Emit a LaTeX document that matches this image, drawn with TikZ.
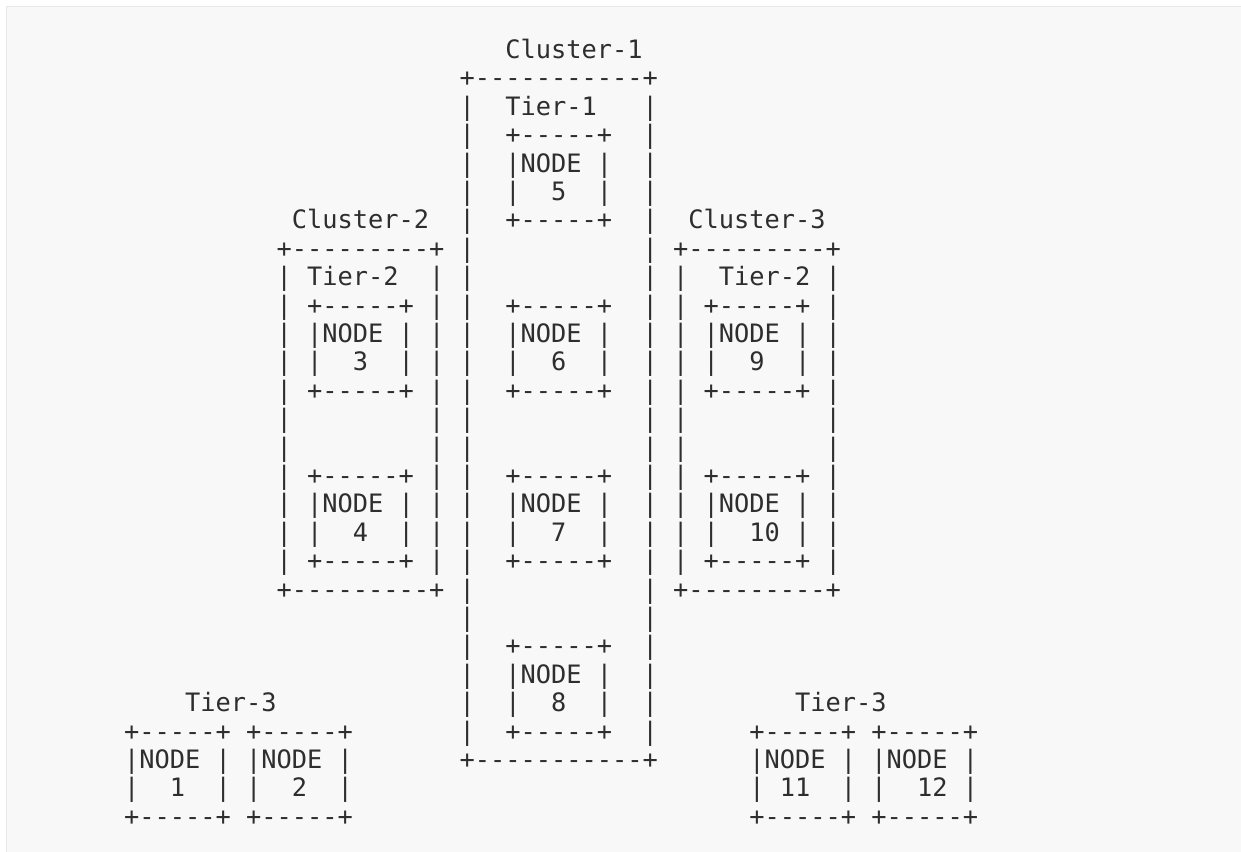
\documentclass[tikz,border=0pt]{standalone}
\usepackage{fontspec}
\setmonofont{DejaVu Sans Mono}

\definecolor{pagebg}{HTML}{F8F8F8}
\definecolor{frameline}{HTML}{E8E8E8}
\definecolor{ink}{HTML}{2E2E2E}

\tikzset{ascii/.style={anchor=base west, inner sep=0pt, outer sep=0pt, text=ink,
    font=\ttfamily\fontsize{19pt}{21.3pt}\selectfont}}

\begin{document}
\begin{tikzpicture}
    \useasboundingbox (0,0) rectangle (930.75pt,-638.25pt);
    \clip (0,0) rectangle (930.75pt,-638.25pt);
    \fill[white] (0,0) rectangle (930.75pt,-638.25pt);
    \filldraw[fill=pagebg, draw=frameline, line width=1.2pt] (5pt,-5pt) rectangle (940pt,-650pt);

    \begin{scope}[shift={(93.06pt,-43.875pt)}, x=11.4375pt, y=-21.3pt]
    \node[ascii] (row0) at (25,0) {Cluster-1};
    \node[ascii] (row1) at (22,1) {+-----------+};
    \node[ascii] (row2) at (22,2) {|~~Tier-1~~~|};
    \node[ascii] (row3) at (22,3) {|~~+-----+~~|};
    \node[ascii] (row4) at (22,4) {|~~|NODE~|~~|};
    \node[ascii] (row5) at (22,5) {|~~|~~5~~|~~|};
    \node[ascii] (row6) at (11,6) {Cluster-2~~|~~+-----+~~|~~Cluster-3};

    \node[ascii] (row7) at (10,7) {+---------+~|~~~~~~~~~~~|~+---------+};
    \node[ascii] (row8) at (10,8) {|~Tier-2~~|~|~~~~~~~~~~~|~|~~Tier-2~|};
    \node[ascii] (row9) at (10,9) {|~+-----+~|~|~~+-----+~~|~|~+-----+~|};
    \node[ascii] (row10) at (10,10) {|~|NODE~|~|~|~~|NODE~|~~|~|~|NODE~|~|};
    \node[ascii] (row11) at (10,11) {|~|~~3~~|~|~|~~|~~6~~|~~|~|~|~~9~~|~|};
    \node[ascii] (row12) at (10,12) {|~+-----+~|~|~~+-----+~~|~|~+-----+~|};
    \node[ascii] (row13) at (10,13) {|~~~~~~~~~|~|~~~~~~~~~~~|~|~~~~~~~~~|};
    \node[ascii] (row14) at (10,14) {|~~~~~~~~~|~|~~~~~~~~~~~|~|~~~~~~~~~|};
    \node[ascii] (row15) at (10,15) {|~+-----+~|~|~~+-----+~~|~|~+-----+~|};
    \node[ascii] (row16) at (10,16) {|~|NODE~|~|~|~~|NODE~|~~|~|~|NODE~|~|};
    \node[ascii] (row17) at (10,17) {|~|~~4~~|~|~|~~|~~7~~|~~|~|~|~~10~|~|};
    \node[ascii] (row18) at (10,18) {|~+-----+~|~|~~+-----+~~|~|~+-----+~|};
    \node[ascii] (row19) at (10,19) {+---------+~|~~~~~~~~~~~|~+---------+};

    \node[ascii] (row20) at (22,20) {|~~~~~~~~~~~|};
    \node[ascii] (row21) at (22,21) {|~~+-----+~~|};
    \node[ascii] (row22) at (22,22) {|~~|NODE~|~~|};
    \node[ascii] (tierL) at (4,23) {Tier-3};
    \node[ascii] (row23) at (22,23) {|~~|~~8~~|~~|};
    \node[ascii] (tierR) at (44,23) {Tier-3};
    \node[ascii] (topL) at (0,24) {+-----+~+-----+};
    \node[ascii] (row24) at (22,24) {|~~+-----+~~|};
    \node[ascii] (topR) at (41,24) {+-----+~+-----+};
    \node[ascii] (nodeL) at (0,25) {|NODE~|~|NODE~|};
    \node[ascii] (row25) at (22,25) {+-----------+};
    \node[ascii] (nodeR) at (41,25) {|NODE~|~|NODE~|};
    \node[ascii] (numL) at (0,26) {|~~1~~|~|~~2~~|};
    \node[ascii] (numR) at (41,26) {|~11~~|~|~~12~|};
    \node[ascii] (botL) at (0,27) {+-----+~+-----+};
    \node[ascii] (botR) at (41,27) {+-----+~+-----+};
    \end{scope}
\end{tikzpicture}
\end{document}
